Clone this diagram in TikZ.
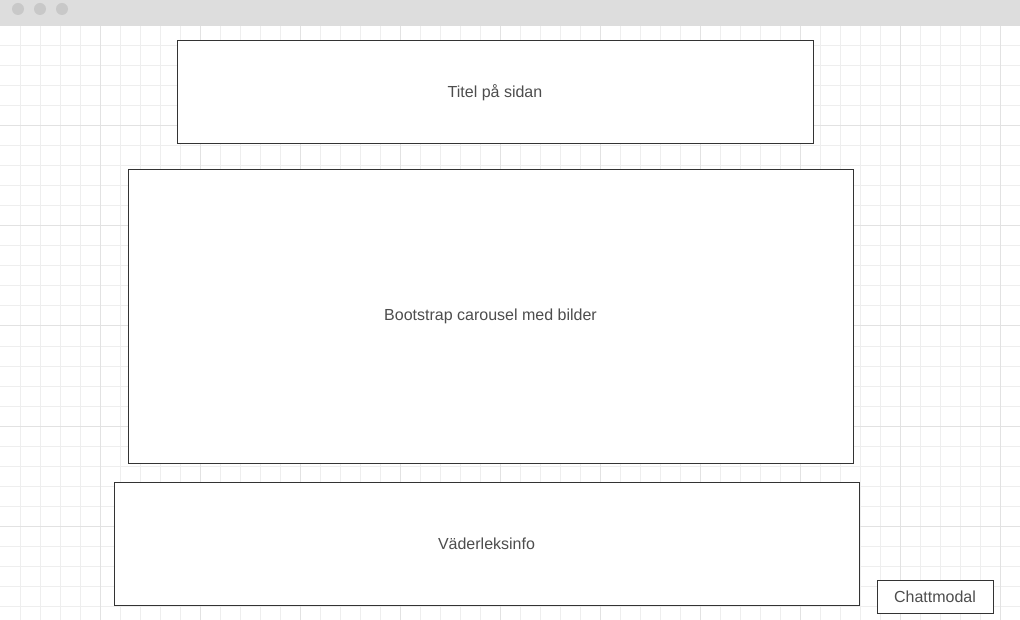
\documentclass[tikz,border=0pt]{standalone}
\usepackage{fontspec}
\setmainfont{Liberation Sans}
\usepackage{tikz}
\definecolor{barcol}{HTML}{DDDDDD}
\definecolor{dotcol}{HTML}{C8C8C8}
\definecolor{gridcol}{HTML}{EEEEEE}
\definecolor{gridmajor}{HTML}{E2E2E2}
\definecolor{textcol}{HTML}{4D4D4D}
\definecolor{linecol}{HTML}{333333}
\tikzset{
    wirebox/.style={
        draw=linecol,
        line width=1pt,
        fill=white,
        inner sep=0,
        text=textcol,
        font=\fontsize{16}{19}\selectfont,
    },
    winbtn/.style={
        circle,
        fill=dotcol,
        inner sep=0,
        minimum size=12pt,
    },
}

\begin{document}
\begin{tikzpicture}[x=1pt,y=-1pt]
            \useasboundingbox (0,0) rectangle (1020,620);
            % grid
            \foreach \x in {20,40,...,1000} {
                \draw[gridcol, line width=1pt] (\x,26) -- (\x,620);
            }
            \foreach \y in {46,66,...,606} {
                \draw[gridcol, line width=1pt] (0,\y) -- (1020,\y);
            }
            \foreach \x in {100,200,...,1000} {
                \draw[gridmajor, line width=1pt] (\x,26) -- (\x,620);
            }
            \foreach \y in {126,226,...,526} {
                \draw[gridmajor, line width=1pt] (0,\y) -- (1020,\y);
            }

            % window bar
            \fill[barcol] (0,0) rectangle (1020,26);
            \node[winbtn] at (18, 9) (btnA) {} ;
            \node[winbtn] at (40, 9) (btnB) {} ;
            \node[winbtn] at (62, 9) (btnC) {} ;

            \node[wirebox, minimum width=636pt, minimum height=103pt] at (495, 92.5) (titel) {Titel på sidan} ;
            \node[wirebox, minimum width=725pt, minimum height=293pt] at (490.5, 316.5) (carousel) {Bootstrap carousel med bilder} ;
            \node[wirebox, minimum width=745pt, minimum height=123pt] at (486.5, 543.5) (vader) {Väderleksinfo} ;
            \node[wirebox, minimum width=116pt, minimum height=33pt] at (935, 596.5) (chatt) {Chattmodal} ;
        \end{tikzpicture}
\end{document}
